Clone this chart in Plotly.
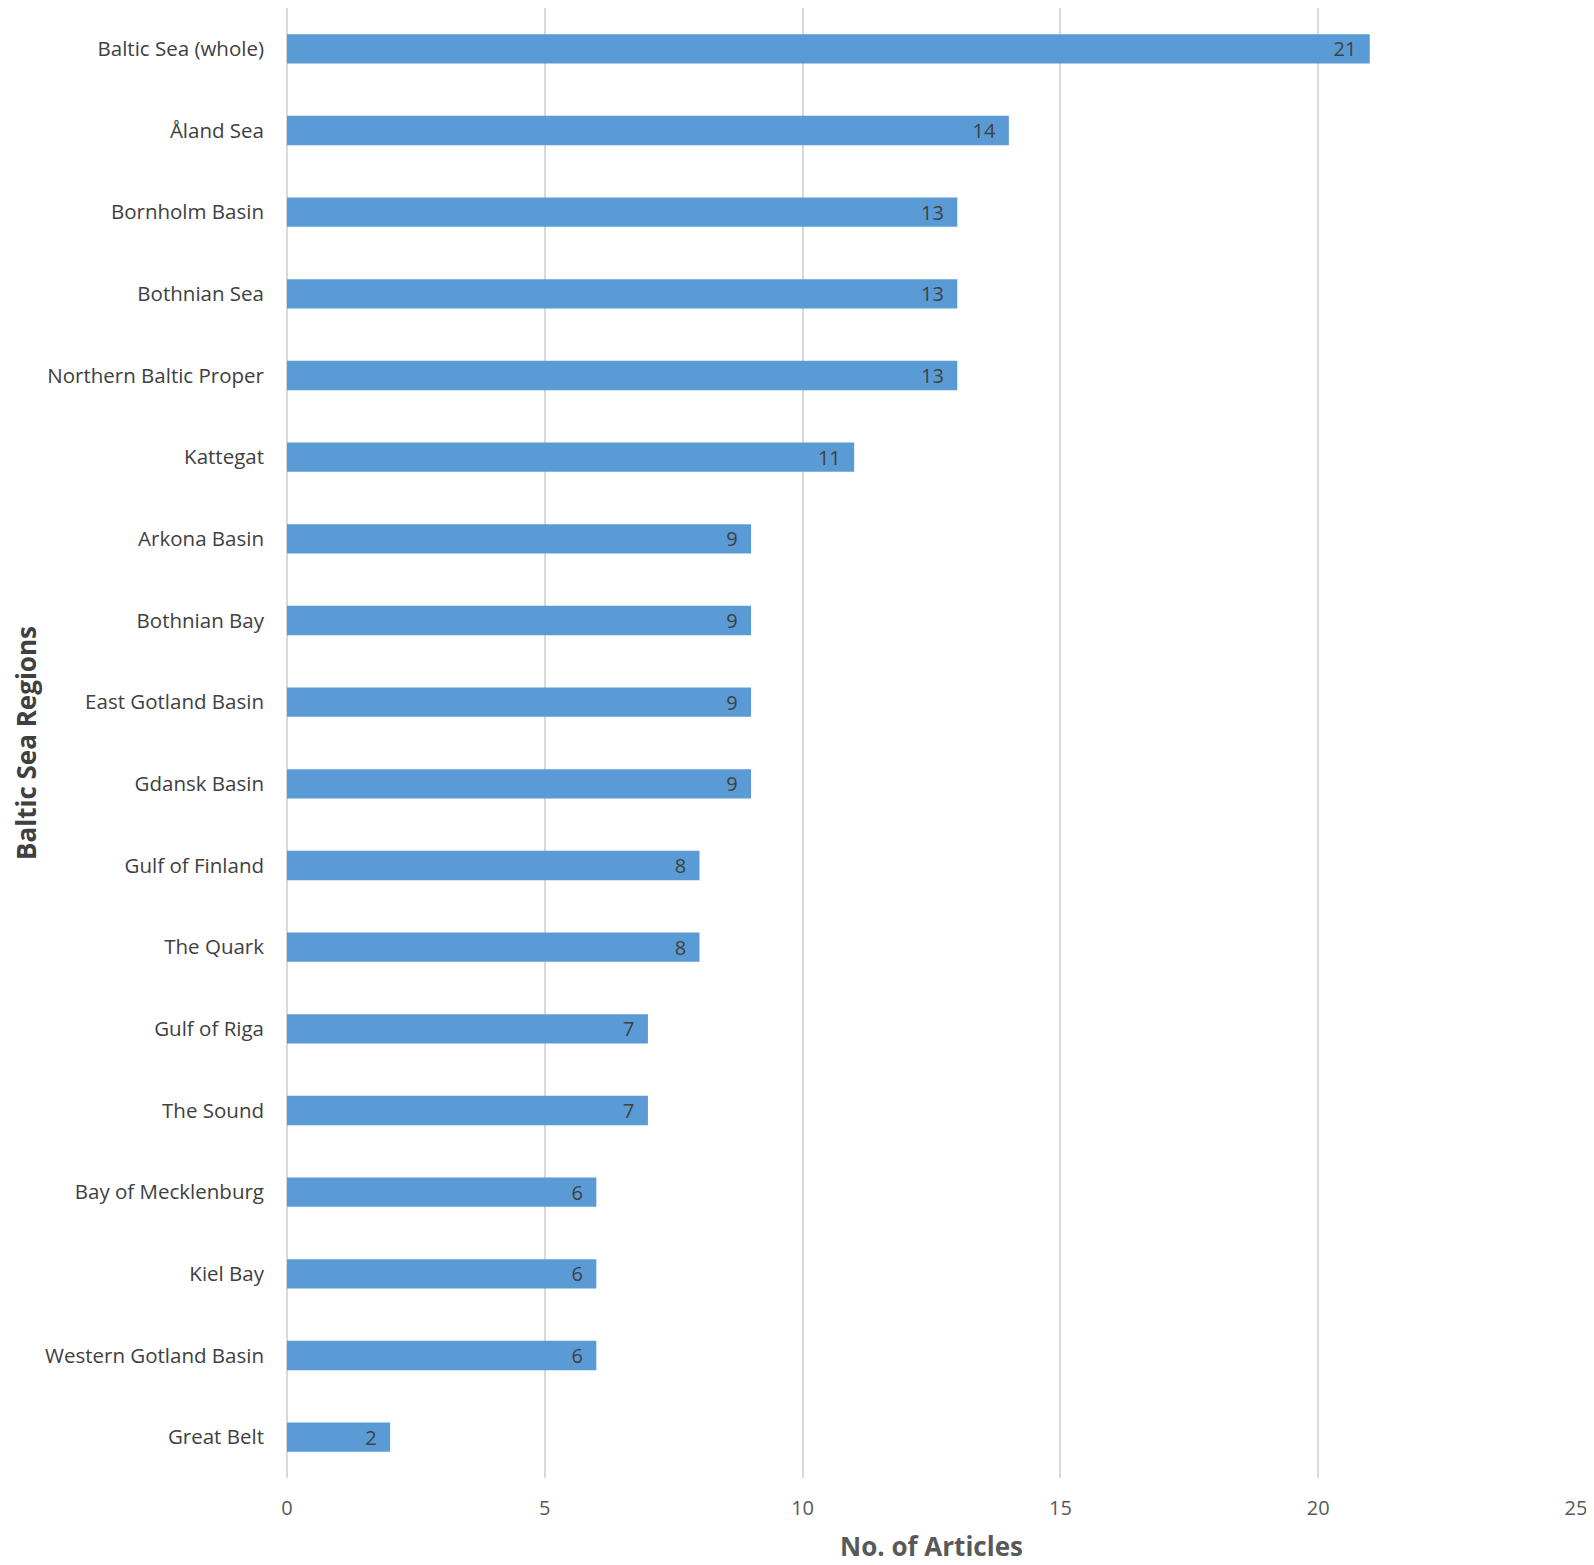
import plotly.graph_objects as go

regions = ["Baltic Sea (whole)", "Åland Sea", "Bornholm Basin", "Bothnian Sea",
           "Northern Baltic Proper", "Kattegat", "Arkona Basin", "Bothnian Bay",
           "East Gotland Basin", "Gdansk Basin", "Gulf of Finland", "The Quark",
           "Gulf of Riga", "The Sound", "Bay of Mecklenburg", "Kiel Bay",
           "Western Gotland Basin", "Great Belt"]
articles = [21, 14, 13, 13, 13, 11, 9, 9, 9, 9, 8, 8, 7, 7, 6, 6, 6, 2]
x_ticks = [0, 5, 10, 15, 20, 25]

FONT = "Open Sans"

fig = go.Figure(go.Bar(
    x=articles, y=regions, orientation="h",
    marker=dict(color="#5B9BD5", line=dict(width=0)),
    text=articles, texttemplate="%{x}\u00a0\u00a0",
    textposition="inside", insidetextanchor="end",
    textangle=0, constraintext="none",
    textfont=dict(family=FONT, size=20, color="#404040"),
    cliponaxis=False,
))

fig.update_layout(
    width=1586, height=1557,
    margin=dict(l=279, r=18, t=0, b=87, autoexpand=False),
    paper_bgcolor="white", plot_bgcolor="white",
    bargap=0.64,
    showlegend=False,
    font=dict(family=FONT, color="#595959"),
)
fig.update_xaxes(
    range=[0, 25], tickvals=x_ticks, ticktext=[str(v) for v in x_ticks],
    automargin=False,
    showgrid=True, gridcolor="#D9D9D9", gridwidth=1.5,
    zeroline=True, zerolinecolor="#D9D9D9", zerolinewidth=1.5,
    showline=False, ticks="", ticklabelstandoff=16,
    tickfont=dict(family=FONT, size=20, color="#595959"),
    title=dict(text="<b>No. of Articles</b>", standoff=17,
               font=dict(family=FONT, size=26, color="#595959")),
)
fig.update_yaxes(
    categoryorder="array", categoryarray=regions, autorange="reversed",
    automargin=False,
    showgrid=False, zeroline=False, showline=False, ticks="",
    ticklabelstandoff=22,
    tickfont=dict(family=FONT, size=20.5, color="#404040"),
    title=dict(text="<b>Baltic Sea Regions</b>", standoff=20,
               font=dict(family=FONT, size=26, color="#404040")),
)

fig.write_html("out.html")
